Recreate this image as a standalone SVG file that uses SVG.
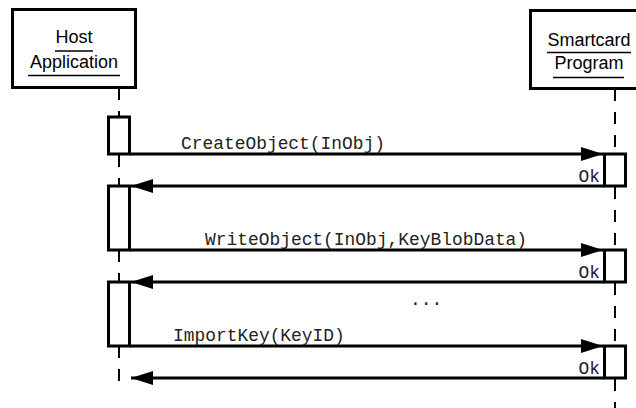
<svg xmlns="http://www.w3.org/2000/svg" width="636" height="408" viewBox="0 0 636 408">
<style>
.box{fill:#fff;stroke:#000;stroke-width:3}
.act{fill:#fff;stroke:#000;stroke-width:3}
.life{stroke:#000;stroke-width:2;stroke-dasharray:12 11;fill:none}
.ul{stroke:#000;stroke-width:1.5}
.lbl{font-family:"Liberation Sans",Arial,sans-serif;font-size:18px;fill:#000;text-anchor:middle}
.msg{font-family:"Liberation Mono","Courier New",monospace;font-size:17.9px;fill:#222}
.ok{font-family:"Liberation Mono","Courier New",monospace;font-size:17.9px;fill:#222;text-anchor:end}
.line{stroke:#000;stroke-width:3;fill:none}
</style>
<defs>
<marker id="ah" viewBox="0 0 22 14" refX="22" refY="7" markerWidth="22" markerHeight="14" markerUnits="userSpaceOnUse" orient="auto">
<path d="M0,0 L22,7 L0,14 Z" fill="#000"/>
</marker>
</defs>
<rect width="636" height="408" fill="#fff"/>
<g id="lifelines">
<line class="life" x1="119" y1="88" x2="119" y2="117"/>
<line class="life" x1="119" y1="155" x2="119" y2="186"/>
<line class="life" x1="119" y1="250" x2="119" y2="282"/>
<line class="life" x1="119" y1="346" x2="119" y2="382"/>
<line class="life" x1="615" y1="89" x2="615" y2="154"/>
<line class="life" x1="615" y1="187" x2="615" y2="250"/>
<line class="life" x1="615" y1="283" x2="615" y2="346"/>
<line class="life" x1="615" y1="379" x2="615" y2="408"/>
</g>
<g id="host">
<rect class="box" x="12.5" y="9.5" width="123" height="78"/>
<text class="lbl" x="74" y="43">Host</text>
<line class="ul" x1="55" y1="51" x2="93" y2="51"/>
<text class="lbl" x="74" y="68">Application</text>
<line class="ul" x1="28" y1="75.5" x2="120" y2="75.5"/>
</g>
<g id="smartcard">
<rect class="box" x="530.5" y="10.5" width="120" height="78"/>
<text class="lbl" x="589" y="46">Smartcard</text>
<line class="ul" x1="547" y1="52.5" x2="631" y2="52.5"/>
<text class="lbl" x="589" y="69">Program</text>
<line class="ul" x1="553" y1="77.5" x2="624" y2="77.5"/>
</g>
<g id="host-activations">
<rect class="act" x="108.5" y="117" width="21" height="37"/>
<rect class="act" x="108.5" y="186" width="21" height="64"/>
<rect class="act" x="108.5" y="282" width="21" height="64"/>
</g>
<g id="card-activations">
<rect class="act" x="604.5" y="154" width="21" height="32"/>
<rect class="act" x="604.5" y="250" width="21" height="32"/>
<rect class="act" x="604.5" y="346" width="21" height="32"/>
</g>
<g id="connectors">
<line class="line" x1="130" y1="154" x2="603" y2="154" marker-end="url(#ah)"/>
<line class="line" x1="604" y1="186" x2="131" y2="186" marker-end="url(#ah)"/>
<line class="line" x1="130" y1="250" x2="603" y2="250" marker-end="url(#ah)"/>
<line class="line" x1="604" y1="282" x2="131" y2="282" marker-end="url(#ah)"/>
<line class="line" x1="130" y1="346" x2="603" y2="346" marker-end="url(#ah)"/>
<line class="line" x1="604" y1="378" x2="131" y2="378" marker-end="url(#ah)"/>
</g>
<g id="labels">
<text class="msg" x="181" y="149">CreateObject(InObj)</text>
<text class="ok" x="600" y="182">Ok</text>
<text class="msg" x="205" y="245">WriteObject(InObj,KeyBlobData)</text>
<text class="ok" x="600" y="278">Ok</text>
<text class="msg" x="410" y="305">...</text>
<text class="msg" x="173" y="341">ImportKey(KeyID)</text>
<text class="ok" x="600" y="374">Ok</text>
</g>
</svg>
